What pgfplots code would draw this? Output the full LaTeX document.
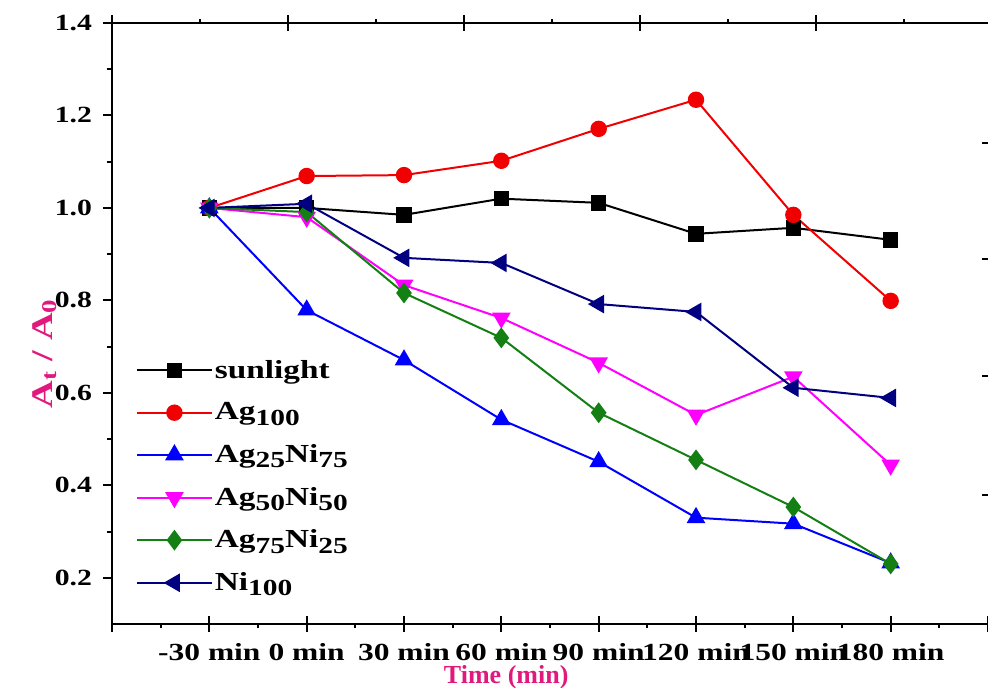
\documentclass[border=0pt]{standalone}
\usepackage{fontspec}
\setmainfont{Liberation Serif}
\newfontfamily\wide[FakeStretch=1.28]{Liberation Serif}
\usepackage{pgfplots}
\pgfplotsset{compat=1.18}
\definecolor{pinklab}{RGB}{225,25,125}
\definecolor{mygreen}{RGB}{20,128,20}
\definecolor{navy}{RGB}{0,0,128}
\definecolor{mymagenta}{RGB}{255,0,255}
\definecolor{myred}{RGB}{240,0,0}
\definecolor{myblue}{RGB}{0,0,255}
\newcommand{\sub}[1]{\raisebox{-0.45ex}{\fontsize{11.5}{12}\selectfont #1}}
\pgfplotsset{base/.style={scale only axis, width=438pt, height=300.5pt,
  at={(0,0)}, anchor=south west, xmin=-1, xmax=8,
  axis line style={line width=1pt,-},
  every tick/.append style={line width=1pt, black}}}
\begin{document}
\begin{tikzpicture}
% bottom tick marks
\begin{axis}[base, ymin=0, ymax=1, hide y axis, axis x line*=bottom,
  xtick={-1,0,1,2,3,4,5,6,7,8}, minor x tick num=1, xticklabels={},
  tick align=outside, major tick length=8pt, minor tick length=2pt,
  major x tick style={yshift=4pt}]
\end{axis}
% top axis
\begin{axis}[base, xmin=0, xmax=9.955, ymin=0, ymax=1, hide y axis, axis x line*=top,
  xtick={0,2,4,6,8}, minor xtick={1,3,5,7,9}, xticklabels={},
  tick align=outside, major tick length=8pt, minor tick length=2pt,
  major x tick style={yshift=-4pt}]
\end{axis}
% right ticks
\begin{axis}[base, ymin=0, ymax=5.137, hide x axis, axis y line*=right,
  y axis line style={draw=none}, ytick={1.1,2.12,3.12,4.11}, yticklabels={},
  tick align=inside, major tick length=3pt]
\end{axis}
% data
\begin{axis}[base, ymin=0.1, ymax=1.4,
  axis x line*=bottom, axis y line*=left,
  xtick={0,1,2,3,4,5,6,7},
  xticklabels={-30 min,0 min,30 min,60 min,90 min,120 min,150 min,180 min},
  x tick style={draw=none},
  ytick={0.2,0.4,0.6,0.8,1.0,1.2,1.4}, minor y tick num=1,
  tick align=outside, major tick length=4.5pt, minor tick length=2.5pt,
  /pgf/number format/assume math mode=true,
  /pgf/number format/.cd, fixed, fixed zerofill, precision=1, /pgfplots/.cd,
  xticklabel style={font=\wide\fontsize{12.3}{14}\selectfont\bfseries, yshift=-1.5pt},
  yticklabel style={font=\wide\fontsize{11.6}{13}\selectfont\bfseries, xshift=-2pt},
  xlabel={Time (min)},
  xlabel style={at={(axis description cs:0.45,0)}, anchor=center, yshift=-26.5pt,
    font=\fontsize{13}{15}\selectfont\bfseries, text=pinklab},
  ylabel={A\textsubscript{t} / A\textsubscript{0}},
  ylabel style={at={(axis description cs:-0.0765,0.45)}, anchor=center,
    font=\wide\fontsize{15}{17}\selectfont\bfseries, text=pinklab},
  legend style={draw=none, fill=none, at={(0.02,0.45)}, anchor=north west,
    font=\wide\fontsize{13}{15}\selectfont\bfseries, row sep=8.8pt,
    nodes={inner sep=1pt}},
  legend cell align=left,
  legend image code/.code={\draw[mark repeat=2,mark phase=2,#1]
    plot coordinates {(0pt,0pt) (18.75pt,0pt) (37.5pt,0pt)};},
  every axis plot/.append style={line width=1pt, mark options={solid}},
]
\coordinate (sw) at (rel axis cs:0,0);
\coordinate (ne) at (rel axis cs:1,1);
\addplot[black, mark=square*, mark size=3.4pt] coordinates {
(0,1.0) (1,1.0) (2,0.985) (3,1.02) (4,1.011) (5,0.944) (6,0.957) (7,0.931)};
\addlegendentry{sunlight}
\addplot[myred, mark=*, mark size=3.6pt] coordinates {
(0,1.0) (1,1.069) (2,1.071) (3,1.102) (4,1.171) (5,1.234) (6,0.985) (7,0.799)};
\addlegendentry{Ag\sub{100}}
\addplot[myblue, mark=triangle*, mark size=4.4pt] coordinates {
(0,1.0) (1,0.779) (2,0.671) (3,0.542) (4,0.451) (5,0.330) (6,0.317) (7,0.232)};
\addlegendentry{Ag\sub{25}Ni\sub{75}}
\addplot[mymagenta, mark=triangle*, mark size=4.4pt, mark options={rotate=180}] coordinates {
(0,1.0) (1,0.98) (2,0.833) (3,0.762) (4,0.665) (5,0.552) (6,0.635) (7,0.444)};
\addlegendentry{Ag\sub{50}Ni\sub{50}}
\addplot[mygreen, mark=diamond*, mark size=4.4pt] coordinates {
(0,1.0) (1,0.991) (2,0.816) (3,0.719) (4,0.557) (5,0.455) (6,0.353) (7,0.23)};
\addlegendentry{Ag\sub{75}Ni\sub{25}}
\addplot[navy, mark=triangle*, mark size=4.4pt, mark options={rotate=90}] coordinates {
(0,1.0) (1,1.009) (2,0.892) (3,0.881) (4,0.792) (5,0.775) (6,0.611) (7,0.589)};
\addlegendentry{Ni\sub{100}}
\end{axis}
\pgfresetboundingbox
\path[use as bounding box] ([xshift=-56pt,yshift=-31.5pt]sw) rectangle ([yshift=11.5pt]ne);
\end{tikzpicture}
\end{document}
